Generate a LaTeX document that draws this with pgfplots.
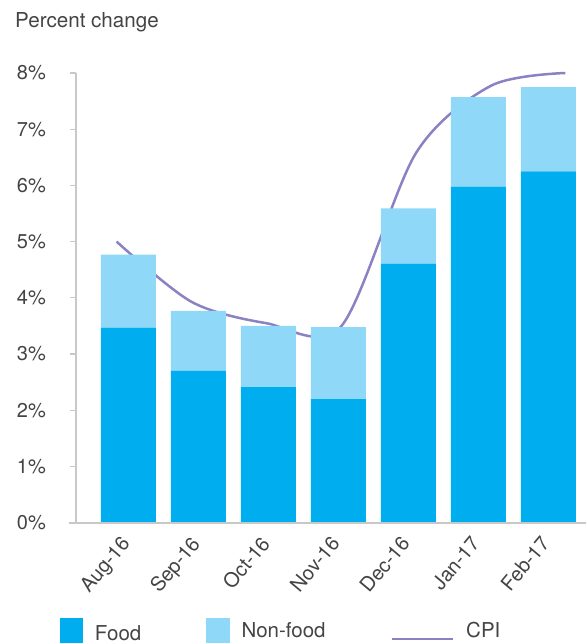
\documentclass[border=0pt]{standalone}
\usepackage{fontspec}
\setmainfont{TeX Gyre Heros}
\usepackage{pgfplots}
\pgfplotsset{compat=1.18}
\definecolor{food}{HTML}{00AEEF}
\definecolor{nonfood}{HTML}{8FD8F7}
\definecolor{cpi}{HTML}{8A82C2}
\definecolor{axgray}{HTML}{C8C8C8}
\definecolor{txt}{HTML}{444444}
\begin{document}
\begin{tikzpicture}[font=\fontsize{20}{24}\selectfont]
\begin{axis}[name=ax, at={(0,0)}, anchor=south west,
  scale only axis, width=510pt, height=449.7pt,
  xmin=-0.75, xmax=6.536, ymin=0, ymax=8,
  ybar stacked, bar width=55pt,
  clip=false,
  axis lines=left,
  x axis line style={draw=none},
  y axis line style={axgray, line width=1.5pt, -},
  tick align=outside,
  major tick length=6pt,
  xtick style={draw=none},
  ytick style={axgray, line width=1.2pt},
  xtick={0,...,6},
  xticklabels={Aug-16,Sep-16,Oct-16,Nov-16,Dec-16,Jan-17,Feb-17},
  xticklabel style={xshift=-9pt, yshift=-6pt, rotate=50, anchor=north east, inner sep=0pt, text=txt},
  ytick={0,...,8},
  yticklabel={\pgfmathprintnumber{\tick}\%},
  yticklabel style={anchor=east, inner sep=0pt, xshift=-24pt, text=txt},
  /pgf/number format/assume math mode=true,
  ticklabel style={font=\fontsize{20}{24}\selectfont},
  legend style={at={(rel axis cs:0,0)}, anchor=north west, xshift=-16pt, yshift=-94.6pt,
    draw=none, fill=none, inner sep=0pt, legend columns=3,
    font=\fontsize{20.5}{24}\selectfont, text=txt,
    nodes={inner sep=0pt, anchor=base west},
    /tikz/every odd column/.append style={column sep=11.5pt},
    /tikz/every even column/.append style={column sep=65pt}},
]
\addplot[fill=food, draw=none, area legend,
  legend image code/.code={\fill[food] (0pt,-5.3pt) rectangle (23.3pt,20.4pt);}]
  coordinates {(0,3.47) (1,2.70) (2,2.41) (3,2.20) (4,4.61) (5,5.98) (6,6.25)};
\addlegendentry[yshift=-2.5pt]{Food}
\addplot[fill=nonfood, draw=none, area legend,
  legend image code/.code={\fill[nonfood] (0pt,-5.3pt) rectangle (23.7pt,20.4pt);}]
  coordinates {(0,1.30) (1,1.07) (2,1.09) (3,1.28) (4,0.98) (5,1.59) (6,1.50)};
\addlegendentry{Non-food}
\addplot[stack plots=false, smooth, cpi, line width=2.5pt, no markers,
  legend image code/.code={\draw[cpi, line width=2.5pt] (0pt,-1.3pt) -- (61.6pt,-1.3pt);}]
  coordinates {(-0.17,5.00) (0.899,3.93) (1.967,3.55) (3.036,3.49) (4.104,6.57) (5.173,7.77) (6.24,8.00)};
\addlegendentry{CPI}
\end{axis}
\draw[axgray, line width=2pt] ([xshift=-7pt]ax.south west) -- (ax.south east);
\node[anchor=base west, inner sep=0pt, text=txt, font=\fontsize{20.6}{24}\selectfont] at ([xshift=-61pt, yshift=495.4pt]ax.south west) {Percent change};
\useasboundingbox ([xshift=-76pt, yshift=-121.3pt]ax.south west) rectangle ++(586pt,644pt);
\end{tikzpicture}
\end{document}
